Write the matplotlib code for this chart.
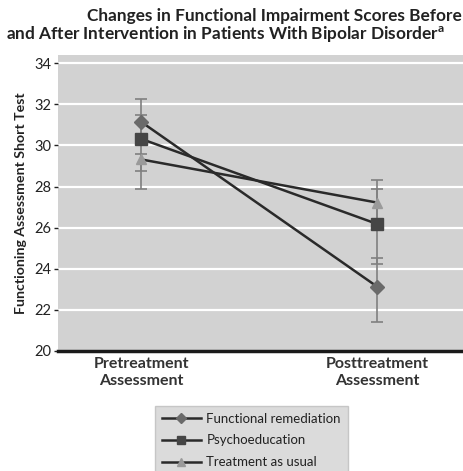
import matplotlib
matplotlib.use("Agg")
import matplotlib.pyplot as plt
from matplotlib.ticker import FixedLocator

plt.rcParams['font.family'] = ['Lato', 'DejaVu Sans']

categories = ["Pretreatment\nAssessment", "Posttreatment\nAssessment"]
series_names = ["Functional remediation", "Psychoeducation", "Treatment as usual"]
fr_values = [31.15, 23.13]
pe_values = [30.32, 26.18]
tau_values = [29.32, 27.22]
fr_lower = [30.05, 21.43]
fr_upper = [32.28, 24.50]
pe_lower = [28.75, 24.21]
pe_upper = [31.50, 27.90]
tau_lower = [27.90, 26.10]
tau_upper = [29.56, 28.31]
yticks = [20, 22, 24, 26, 28, 30, 32, 34]

fig = plt.figure(figsize=(4.64, 4.71), dpi=100)
fig.patch.set_facecolor('white')
ax = fig.add_axes([0.125, 0.2548, 0.873, 0.628])
ax.set_facecolor('#d2d2d2')

x = list(range(len(categories)))
styles = [
    (fr_values, fr_lower, fr_upper, 'D', '#6a6a6a', 7),
    (pe_values, pe_lower, pe_upper, 's', '#454545', 8),
    (tau_values, tau_lower, tau_upper, '^', '#9a9a9a', 7),
]
handles = []
for (vals, lo, hi, mk, mc, ms), name in zip(styles, series_names):
    yerr = [[v - l for v, l in zip(vals, lo)], [h - v for v, h in zip(vals, hi)]]
    ax.errorbar(x, vals, yerr=yerr, fmt='none', ecolor='#808080', elinewidth=1.2,
                capsize=4, capthick=1.2, zorder=2)
    h, = ax.plot(x, vals, color='#2a2a2a', lw=1.8, marker=mk, markersize=ms,
                 markerfacecolor=mc, markeredgecolor=mc, zorder=3, label=name)
    handles.append(h)

ax.set_xlim(-0.352, 1.364)
ax.set_ylim(20, 34.39)
ax.yaxis.set_major_locator(FixedLocator(yticks))
ax.set_yticklabels([str(t) for t in yticks], fontsize=10.5, color='#222222')
ax.set_xticks(x)
ax.set_xticklabels(categories, fontsize=11.5, fontweight='bold', color='#333333',
                   linespacing=1.3)
ax.tick_params(axis='x', length=0, pad=4)
ax.tick_params(axis='y', length=3, width=1, color='#222222', pad=2)
ax.grid(axis='y', color='white', lw=1.6, zorder=0)
ax.set_axisbelow(True)
for s in ['top', 'right', 'left']:
    ax.spines[s].set_visible(False)
ax.spines['bottom'].set_linewidth(2.5)
ax.spines['bottom'].set_color('#1a1a1a')

ax.set_ylabel("Functioning Assessment Short Test", fontsize=10.2, fontweight='bold',
              color='#222222', labelpad=5)

fig.text(0.995, 0.966, "Changes in Functional Impairment Scores Before",
         ha='right', va='center', fontsize=12.4, fontweight='bold', color='#222222')
fig.text(0.012, 0.926, "and After Intervention in Patients With Bipolar Disorder$^{\\mathregular{a}}$",
         ha='left', va='center', fontsize=12.4, fontweight='bold', color='#222222')

leg = fig.legend(handles=handles, loc='upper left', bbox_to_anchor=(0.334, 0.138),
                 frameon=True, fontsize=9.5, handlelength=3.0, borderpad=0.5,
                 labelspacing=0.75, handletextpad=0.4, borderaxespad=0, markerscale=0.75)
leg.get_frame().set_facecolor('#d2d2d2')
leg.get_frame().set_edgecolor('#bdbdbd')
leg.get_frame().set_boxstyle('square', pad=0)
for t in leg.get_texts():
    t.set_color('#222222')

fig.savefig('out.png', dpi=100, facecolor='white')
